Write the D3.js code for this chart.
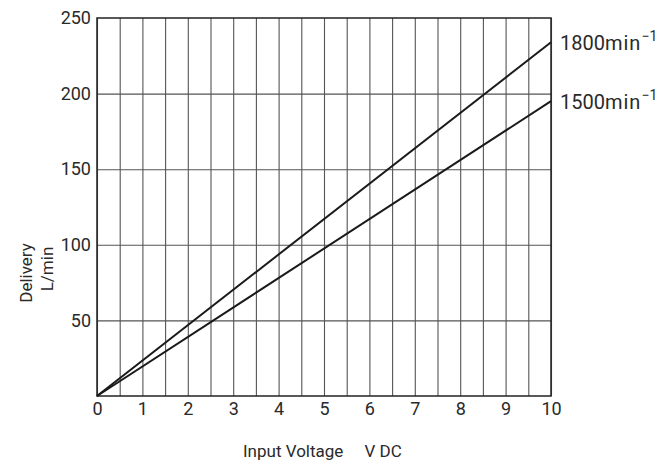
<!DOCTYPE html>
<html>
<head>
<meta charset="utf-8">
<script src="https://cdn.jsdelivr.net/npm/d3@7"></script>
<style>
  body { margin: 0; background: #fff; }
  text { font-family: Roboto, "Liberation Sans", sans-serif; fill: #2a2a2a; font-weight: 400; }
</style>
</head>
<body>
<script>
 ///////////////////////////////////////////////////////
 // data

 var voltage = [0, 10];
 var delivery1800 = [0, 234];
 var delivery1500 = [0, 195];
 var seriesNames = ["1800", "1500"];
 var xTickValues = [0, 1, 2, 3, 4, 5, 6, 7, 8, 9, 10];
 var yTickValues = [50, 100, 150, 200, 250];
 var xGridValues = d3.range(0, 10.01, 0.5);
 var yGridValues = [50, 100, 150, 200];

 ///////////////////////////////////////////////////////
 // margins

 var w = 660;
 var h = 463;
 var svg = d3.select("body").append("svg")
   .attr("width", w)
   .attr("height", h),
   margin = { top: 18, left: 97, right: 109, bottom: 67 },
   width = w - margin.left - margin.right,
   height = h - margin.top - margin.bottom;

 ///////////////////////////////////////////////////////
 // scales

 var x = d3.scaleLinear().domain([0, 10]).range([0, width]);
 var y = d3.scaleLinear().domain([0, 250]).range([height, 0]);

 var chart = svg.append("g")
   .attr("transform", "translate(" + margin.left + "," + margin.top + ")");

 // gridlines
 chart.append("g")
   .attr("class", "grid x")
   .call(d3.axisBottom(x).tickValues(xGridValues).tickFormat("").tickSize(height))
   .call(function(g) {
     g.select(".domain").remove();
     g.selectAll("line").attr("stroke", "#555").attr("stroke-width", 1.1);
   });
 chart.append("g")
   .attr("class", "grid y")
   .call(d3.axisLeft(y).tickValues(yGridValues).tickFormat("").tickSize(-width))
   .call(function(g) {
     g.select(".domain").remove();
     g.selectAll("line").attr("stroke", "#555").attr("stroke-width", 1.1);
   });

 // frame
 chart.append("rect")
   .attr("width", width)
   .attr("height", height)
   .attr("fill", "none")
   .attr("stroke", "#222")
   .attr("stroke-width", 1.5);

 // axes (labels only)
 chart.append("g")
   .attr("transform", "translate(0," + height + ")")
   .call(d3.axisBottom(x).tickValues(xTickValues).tickSize(0).tickPadding(6))
   .call(function(g) {
     g.select(".domain").remove();
     g.selectAll("text").style("font-size", "18px").attr("fill", "#333");
   });
 chart.append("g")
   .call(d3.axisLeft(y).tickValues(yTickValues).tickSize(0).tickPadding(6))
   .call(function(g) {
     g.select(".domain").remove();
     g.selectAll("text").style("font-size", "18px").attr("fill", "#333");
   });

 ///////////////////////////////////////////////////////
 // plot

 var line = d3.line()
   .x(function(d) { return x(d[0]); })
   .y(function(d) { return y(d[1]); });

 var series = [delivery1800, delivery1500].map(function(vals, i) {
   return { name: seriesNames[i], points: d3.zip(voltage, vals) };
 });

 chart.selectAll(".series")
   .data(series)
   .enter().append("path")
   .attr("class", "series")
   .attr("d", function(d) { return line(d.points); })
   .attr("fill", "none")
   .attr("stroke", "#1a1a1a")
   .attr("stroke-width", 2);

 var labels = chart.selectAll(".lbl")
   .data(series)
   .enter().append("text")
   .attr("class", "lbl")
   .attr("x", width + 9)
   .attr("y", function(d) { return y(d.points[d.points.length - 1][1]) + 8; })
   .style("font-size", "20px")
   .attr("fill", "#333");
 labels.append("tspan").text(function(d) { return d.name; });
 labels.append("tspan").attr("letter-spacing", "1px").text("min");
 labels.append("tspan")
   .attr("dy", -9)
   .style("font-size", "14px")
   .text("\u22121");

 // axis titles
 svg.append("text")
   .attr("transform", "translate(32,273) rotate(-90)")
   .attr("text-anchor", "middle")
   .style("font-size", "17px")
   .text("Delivery");
 svg.append("text")
   .attr("transform", "translate(53,269) rotate(-90)")
   .attr("text-anchor", "middle")
   .style("font-size", "17px")
   .text("L/min");
 svg.append("text")
   .attr("x", 243)
   .attr("y", 457)
   .style("font-size", "17px")
   .attr("xml:space", "preserve")
   .text("Input Voltage     V DC");
</script>
</body>
</html>
